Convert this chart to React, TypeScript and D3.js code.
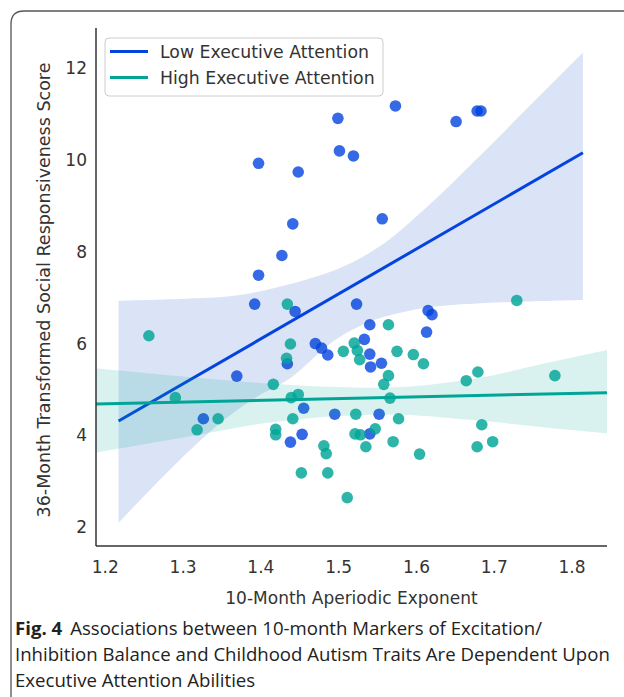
import React from "react";
import * as d3 from "d3";

// ---- data ----
const lowX = [1.397, 1.441, 1.427, 1.397, 1.573, 1.499, 1.651, 1.678, 1.683, 1.501, 1.519, 1.448, 1.556, 1.392, 1.369, 1.326, 1.438, 1.444, 1.523, 1.615, 1.62, 1.54, 1.613, 1.533, 1.47, 1.478, 1.486, 1.54, 1.541, 1.555, 1.455, 1.495, 1.552, 1.453, 1.54, 1.434];
const lowY = [9.93, 8.61, 7.92, 7.49, 11.18, 10.91, 10.84, 11.07, 11.07, 10.2, 10.09, 9.74, 8.72, 6.86, 5.29, 4.36, 3.85, 6.7, 6.86, 6.72, 6.63, 6.41, 6.25, 6.09, 6.0, 5.9, 5.75, 5.77, 5.49, 5.57, 4.59, 4.46, 4.46, 4.02, 4.03, 5.56];

const highX = [1.256, 1.434, 1.29, 1.345, 1.318, 1.416, 1.419, 1.419, 1.438, 1.433, 1.439, 1.441, 1.448, 1.452, 1.486, 1.481, 1.484, 1.511, 1.506, 1.52, 1.524, 1.527, 1.564, 1.575, 1.596, 1.609, 1.564, 1.558, 1.566, 1.577, 1.522, 1.521, 1.528, 1.547, 1.535, 1.57, 1.604, 1.664, 1.679, 1.684, 1.678, 1.698, 1.729, 1.778];
const highY = [6.17, 6.86, 4.82, 4.36, 4.12, 5.11, 4.13, 4.01, 5.99, 5.68, 4.82, 4.36, 4.89, 3.18, 3.18, 3.77, 3.6, 2.64, 5.83, 6.01, 5.85, 5.65, 6.41, 5.83, 5.76, 5.56, 5.3, 5.11, 4.81, 4.36, 4.46, 4.03, 4.01, 4.14, 3.75, 3.86, 3.59, 5.19, 5.38, 4.23, 3.75, 3.86, 6.94, 5.3];

// regression lines (end points)
const lowLineX = [1.217, 1.814];
const lowLineY = [4.31, 10.16];
const highLineX = [1.188, 1.845];
const highLineY = [4.68, 4.93];

// confidence bands (edges)
const lowUpperX = [1.217, 1.309, 1.373, 1.438, 1.498, 1.553, 1.618, 1.682, 1.746, 1.814];
const lowUpperY = [6.93, 6.98, 7.06, 7.3, 7.62, 8.12, 9.05, 10.1, 11.19, 12.34];
const lowLowerX = [1.217, 1.266, 1.309, 1.352, 1.395, 1.438, 1.493, 1.536, 1.579, 1.621, 1.682, 1.814];
const lowLowerY = [2.09, 2.96, 3.68, 4.33, 4.84, 5.25, 6.05, 6.45, 6.67, 6.8, 6.88, 6.95];

const highUpperX = [1.188, 1.3, 1.4, 1.5, 1.58, 1.68, 1.76, 1.845];
const highUpperY = [5.46, 5.28, 5.14, 5.05, 5.05, 5.25, 5.55, 5.86];
const highLowerX = [1.188, 1.3, 1.4, 1.5, 1.58, 1.68, 1.76, 1.845];
const highLowerY = [3.62, 3.95, 4.25, 4.42, 4.45, 4.32, 4.18, 4.04];

const xTicks = [1.2, 1.3, 1.4, 1.5, 1.6, 1.7, 1.8];
const yTicks = [2, 4, 6, 8, 10, 12];
const seriesNames = ["Low Executive Attention", "High Executive Attention"];

const BLUE = "#0343df";
const TEAL = "#00a596";
const FONT = "'DejaVu Sans', Verdana, sans-serif";

export default function App() {
  const W = 624, H = 697;
  const x = d3.scaleLinear().domain([1.188, 1.845]).range([96, 607]);
  const y = d3.scaleLinear().domain([1.586, 12.88]).range([546, 28]);

  const line = d3.line<[number, number]>().x(d => x(d[0])).y(d => y(d[1]));
  const curve = d3.line<[number, number]>().x(d => x(d[0])).y(d => y(d[1])).curve(d3.curveCatmullRom);

  const band = (ux: number[], uy: number[], lx: number[], ly: number[]) => {
    const up = ux.map((v, i) => [v, uy[i]] as [number, number]);
    const lo = lx.map((v, i) => [v, ly[i]] as [number, number]).reverse();
    const p1 = curve(up) || "";
    const p2 = (curve(lo) || "").replace(/^M/, "L");
    return p1 + p2 + "Z";
  };

  const lowPts = lowX.map((v, i) => [v, lowY[i]]);
  const highPts = highX.map((v, i) => [v, highY[i]]);
  const r = 5.8;

  return (
    <svg width={W} height={H} style={{ position: "absolute", left: 0, top: 0, background: "#fff" }}>
      {/* frame */}
      <path d={`M11,${H + 2} L11,24 Q11,11 24,11 L${W + 2},11`} fill="none" stroke="#555" strokeWidth={1.3} />

      {/* low series */}
      <g>
        {lowPts.map((p, i) => (
          <circle key={"l" + i} cx={x(p[0])} cy={y(p[1])} r={r} fill={BLUE} fillOpacity={0.8} />
        ))}
        <path d={band(lowUpperX, lowUpperY, lowLowerX, lowLowerY)} fill="#0a48c4" fillOpacity={0.15} />
        <path d={line(lowLineX.map((v, i) => [v, lowLineY[i]] as [number, number])) || ""} stroke={BLUE} strokeWidth={3} fill="none" />
      </g>
      {/* high series */}
      <g>
        {highPts.map((p, i) => (
          <circle key={"h" + i} cx={x(p[0])} cy={y(p[1])} r={r} fill={TEAL} fillOpacity={0.82} />
        ))}
        <path d={band(highUpperX, highUpperY, highLowerX, highLowerY)} fill={TEAL} fillOpacity={0.15} />
        <path d={line(highLineX.map((v, i) => [v, highLineY[i]] as [number, number])) || ""} stroke={TEAL} strokeWidth={3} fill="none" />
      </g>

      {/* axes */}
      <line x1={96} y1={28} x2={96} y2={546} stroke="#333" strokeWidth={1.5} />
      <line x1={96} y1={546} x2={607} y2={546} stroke="#333" strokeWidth={1.5} />
      {xTicks.map(t => (
        <text key={"xt" + t} x={x(t)} y={573} textAnchor="middle" fontFamily={FONT} fontSize={17} fill="#333">{t.toFixed(1)}</text>
      ))}
      {yTicks.map(t => (
        <text key={"yt" + t} x={87} y={y(t)} dy="0.35em" textAnchor="end" fontFamily={FONT} fontSize={17} fill="#333">{t}</text>
      ))}
      <text x={351.5} y={604} textAnchor="middle" fontFamily={FONT} fontSize={17} fill="#333">10-Month Aperiodic Exponent</text>
      <text transform={`translate(50,290) rotate(-90)`} textAnchor="middle" fontFamily={FONT} fontSize={17.5} fill="#333">36-Month Transformed Social Responsiveness Score</text>

      {/* legend */}
      <rect x={105} y={38} width={278} height={58} rx={4} fill="#fff" fillOpacity={0.85} stroke="#ccc" strokeWidth={1} />
      <line x1={110} y1={51.5} x2={148} y2={51.5} stroke={BLUE} strokeWidth={3} />
      <line x1={110} y1={77.5} x2={148} y2={77.5} stroke={TEAL} strokeWidth={3} />
      <text x={160} y={57.5} fontFamily={FONT} fontSize={17.3} fill="#333">{seriesNames[0]}</text>
      <text x={160} y={83.5} fontFamily={FONT} fontSize={17.3} fill="#333">{seriesNames[1]}</text>

      {/* caption */}
      <g fontFamily="'Open Sans', Lato, sans-serif" fontSize={18.6} fill="#222">
        <text x={15} y={635}><tspan fontWeight="bold">Fig. 4</tspan><tspan dx={8}>Associations between 10-month Markers of Excitation/</tspan></text>
        <text x={15} y={661}>Inhibition Balance and Childhood Autism Traits Are Dependent Upon</text>
        <text x={15} y={687}>Executive Attention Abilities</text>
      </g>
    </svg>
  );
}
